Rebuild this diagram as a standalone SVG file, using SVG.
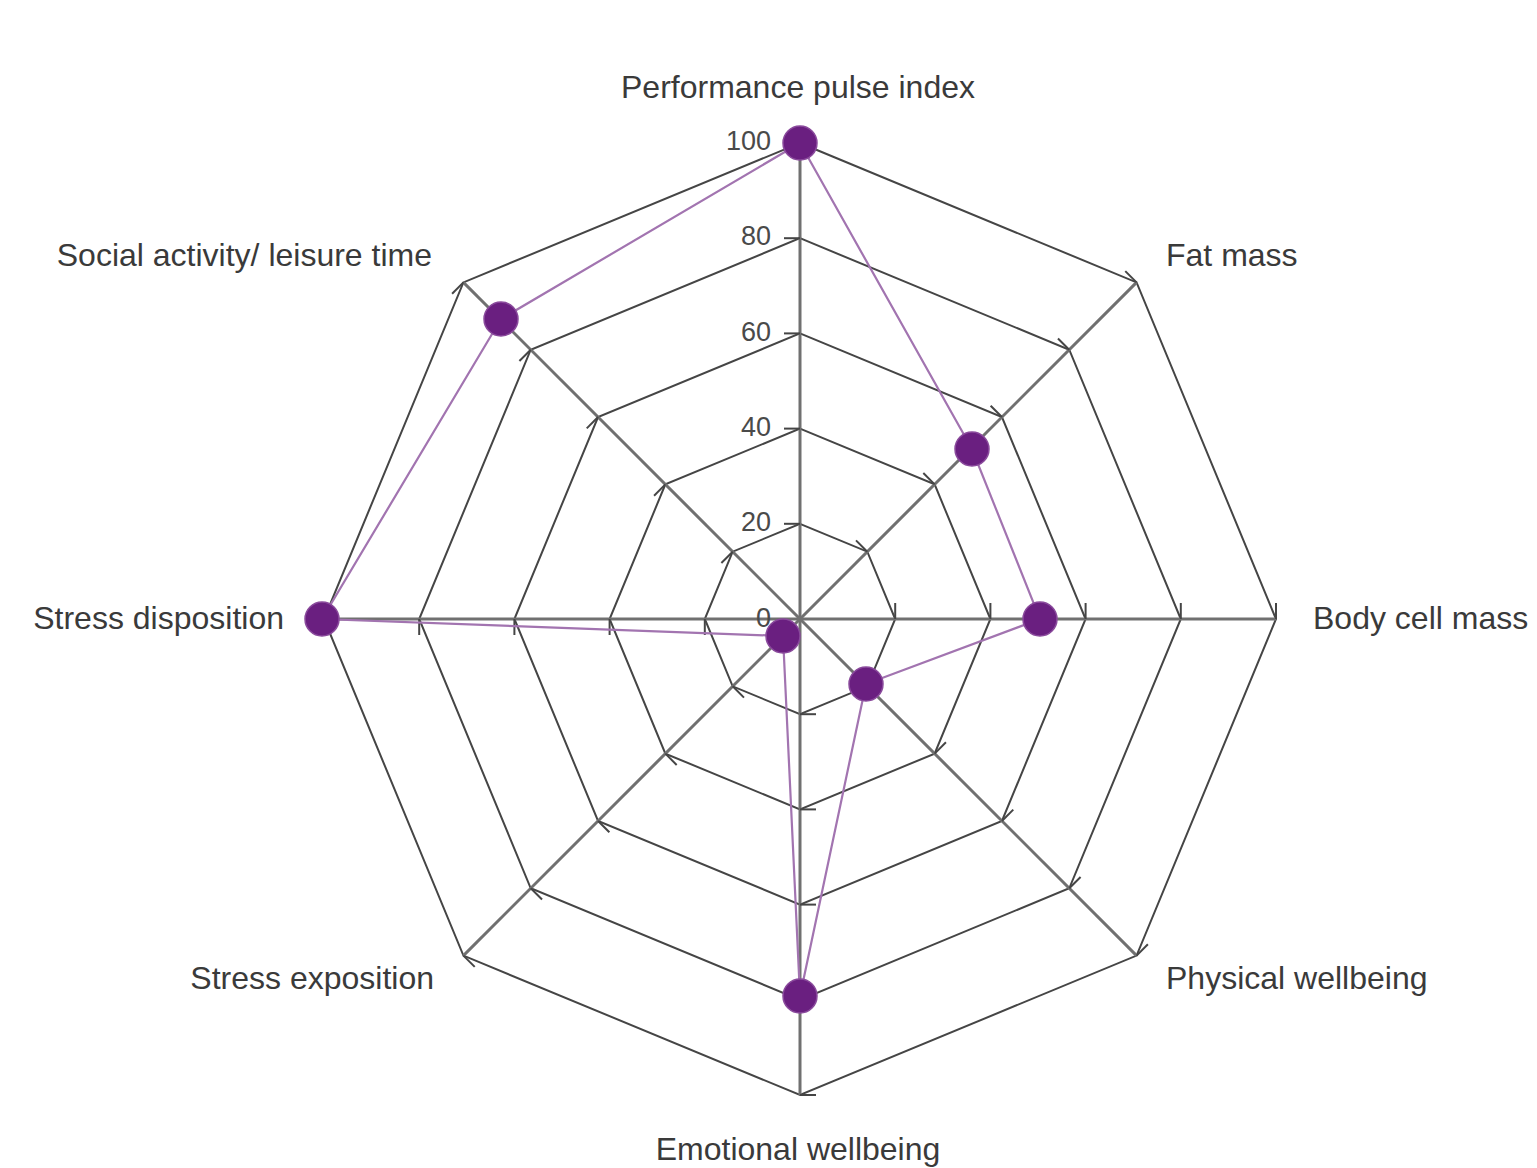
<svg xmlns="http://www.w3.org/2000/svg" width="1537" height="1168" viewBox="0 0 1537 1168">
<style>
.ring{fill:none;stroke:#454545;stroke-width:2}
.axis{stroke:#707070;stroke-width:3}
.tick{stroke:#454545;stroke-width:2}
.lbl{font-family:"Liberation Sans",Arial,sans-serif;font-size:32px;fill:#3a3a3a}
.num{font-family:"Liberation Sans",Arial,sans-serif;font-size:27px;fill:#4a4a4a;text-anchor:end}
.data{fill:none;stroke:#a274b0;stroke-width:2.2}
.pt{fill:#6a1f80;stroke:#8a4a9c;stroke-width:1.5}
</style>
<defs>
<g id="axisTicks">
<line class="axis" x1="800" y1="619" x2="800" y2="143"/>
<line class="tick" x1="784" y1="523.8" x2="800" y2="523.8"/>
<line class="tick" x1="784" y1="428.6" x2="800" y2="428.6"/>
<line class="tick" x1="784" y1="333.4" x2="800" y2="333.4"/>
<line class="tick" x1="784" y1="238.2" x2="800" y2="238.2"/>
<line class="tick" x1="784" y1="143" x2="800" y2="143"/>
</g>
</defs>
<rect width="1537" height="1168" fill="#ffffff"/>
<g id="grid">
<polygon class="ring" points="800,523.8 867.32,551.68 895.2,619 867.32,686.32 800,714.2 732.68,686.32 704.8,619 732.68,551.68"/>
<polygon class="ring" points="800,428.6 934.63,484.37 990.4,619 934.63,753.63 800,809.4 665.37,753.63 609.6,619 665.37,484.37"/>
<polygon class="ring" points="800,333.4 1001.95,417.05 1085.6,619 1001.95,820.95 800,904.6 598.05,820.95 514.4,619 598.05,417.05"/>
<polygon class="ring" points="800,238.2 1069.27,349.73 1180.8,619 1069.27,888.27 800,999.8 530.73,888.27 419.2,619 530.73,349.73"/>
<polygon class="ring" points="800,143 1136.58,282.42 1276,619 1136.58,955.58 800,1095 463.42,955.58 324,619 463.42,282.42"/>
</g>
<g id="axes">
<use href="#axisTicks"/>
<use href="#axisTicks" transform="rotate(45 800 619)"/>
<use href="#axisTicks" transform="rotate(90 800 619)"/>
<use href="#axisTicks" transform="rotate(135 800 619)"/>
<use href="#axisTicks" transform="rotate(180 800 619)"/>
<use href="#axisTicks" transform="rotate(225 800 619)"/>
<use href="#axisTicks" transform="rotate(270 800 619)"/>
<use href="#axisTicks" transform="rotate(315 800 619)"/>
</g>
<g id="scale">
<text class="num" x="771" y="150">100</text>
<text class="num" x="771" y="245">80</text>
<text class="num" x="771" y="341">60</text>
<text class="num" x="771" y="436">40</text>
<text class="num" x="771" y="531">20</text>
<text class="num" x="771" y="627">0</text>
</g>
<g id="connectors">
<polygon class="data" points="800,143 972,449 1040,619 866,684 800,996 783,636 322,619 501,319"/>
</g>
<g id="node-performance"><circle class="pt" cx="800" cy="143" r="17"/><text class="lbl" x="798" y="98" text-anchor="middle">Performance pulse index</text></g>
<g id="node-fat"><circle class="pt" cx="972" cy="449" r="17"/><text class="lbl" x="1166" y="266">Fat mass</text></g>
<g id="node-bodycell"><circle class="pt" cx="1040" cy="619" r="17"/><text class="lbl" x="1313" y="629">Body cell mass</text></g>
<g id="node-physical"><circle class="pt" cx="866" cy="684" r="17"/><text class="lbl" x="1166" y="989">Physical wellbeing</text></g>
<g id="node-emotional"><circle class="pt" cx="800" cy="996" r="17"/><text class="lbl" x="798" y="1160" text-anchor="middle">Emotional wellbeing</text></g>
<g id="node-exposition"><circle class="pt" cx="783" cy="636" r="17"/><text class="lbl" x="434" y="989" text-anchor="end">Stress exposition</text></g>
<g id="node-disposition"><circle class="pt" cx="322" cy="619" r="17"/><text class="lbl" x="284" y="629" text-anchor="end">Stress disposition</text></g>
<g id="node-social"><circle class="pt" cx="501" cy="319" r="17"/><text class="lbl" x="432" y="266" text-anchor="end">Social activity/ leisure time</text></g>
</svg>
